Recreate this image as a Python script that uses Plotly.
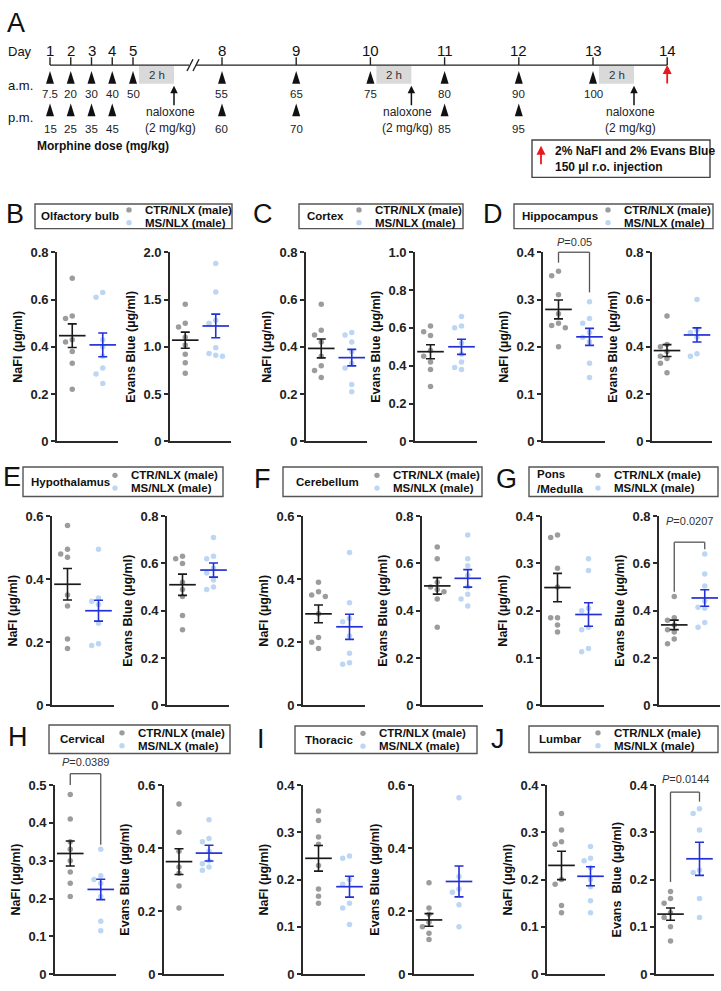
import plotly.graph_objects as go
import numpy as np

W, H = 721, 991
FONT = "Arial, 'Liberation Sans', Helvetica, sans-serif"

# ---------------- Panel A (protocol) data ----------------
days = [1, 2, 3, 4, 5, 8, 9, 10, 11, 12, 13, 14]
am_days = [1, 2, 3, 4, 5, 8, 9, 10, 11, 12, 13]
am_doses = ["7.5", "20", "30", "40", "50", "55", "65", "75", "80", "90", "100"]
pm_days = [1, 2, 3, 4, 8, 9, 11, 12]
pm_doses = ["15", "25", "35", "45", "60", "70", "85", "95"]
naloxone_days = [5, 10, 13]
tracer_day = 14

# ---------------- Panels B-J data ----------------
letters = ["B", "C", "D", "E", "F", "G", "H", "I", "J"]
regions = ["Olfactory bulb", "Cortex", "Hippocampus", "Hypothalamus", "Cerebellum",
           "Pons<br>/Medulla", "Cervical", "Thoracic", "Lumbar"]
group_names = ["CTR/NLX (male)", "MS/NLX (male)"]
measure_titles = [["NaFl (µg/ml)"] * 9,
                  ["Evans Blue (µg/ml)"] * 8 + ["Evans  Blue (µg/ml)"]]

nafl_ctr = [
    [0.69, 0.53, 0.52, 0.43, 0.42, 0.38, 0.33, 0.22],
    [0.58, 0.47, 0.45, 0.42, 0.36, 0.32, 0.30, 0.27],
    [0.36, 0.35, 0.31, 0.27, 0.25, 0.245, 0.24, 0.20],
    [0.57, 0.495, 0.48, 0.47, 0.35, 0.315, 0.21, 0.18],
    [0.39, 0.36, 0.35, 0.345, 0.29, 0.215, 0.20, 0.18],
    [0.36, 0.355, 0.29, 0.25, 0.185, 0.185, 0.17, 0.155],
    [0.475, 0.41, 0.35, 0.33, 0.30, 0.27, 0.24, 0.205],
    [0.345, 0.325, 0.29, 0.275, 0.23, 0.18, 0.165, 0.15],
    [0.34, 0.305, 0.28, 0.275, 0.20, 0.19, 0.145, 0.13],
]
nafl_ms = [
    [0.63, 0.61, 0.43, 0.40, 0.36, 0.31, 0.285, 0.245],
    [0.46, 0.45, 0.42, 0.38, 0.33, 0.31, 0.24, 0.21],
    [0.295, 0.26, 0.25, 0.23, 0.22, 0.21, 0.165, 0.135],
    [0.495, 0.34, 0.33, 0.32, 0.26, 0.195, 0.19],
    [0.485, 0.325, 0.275, 0.265, 0.22, 0.165, 0.135, 0.13],
    [0.31, 0.285, 0.205, 0.20, 0.165, 0.16, 0.12, 0.113],
    [0.33, 0.26, 0.25, 0.24, 0.205, 0.14, 0.115],
    [0.25, 0.245, 0.20, 0.19, 0.15, 0.14, 0.105],
    [0.27, 0.245, 0.24, 0.225, 0.20, 0.185, 0.155, 0.13],
]
evans_ctr = [
    [1.45, 1.25, 1.21, 1.10, 1.02, 0.92, 0.83, 0.72],
    [0.61, 0.58, 0.56, 0.48, 0.45, 0.42, 0.38, 0.29],
    [0.53, 0.41, 0.40, 0.38, 0.36, 0.35, 0.33, 0.29],
    [0.63, 0.62, 0.60, 0.52, 0.49, 0.46, 0.38, 0.32],
    [0.67, 0.62, 0.52, 0.50, 0.49, 0.48, 0.45, 0.33],
    [0.46, 0.37, 0.36, 0.34, 0.32, 0.31, 0.28, 0.26],
    [0.54, 0.45, 0.39, 0.34, 0.32, 0.28, 0.21],
    [0.29, 0.21, 0.19, 0.165, 0.15, 0.13, 0.11],
    [0.175, 0.16, 0.15, 0.13, 0.12, 0.10, 0.07],
]
evans_ms = [
    [1.88, 1.58, 1.28, 1.25, 0.99, 0.93, 0.91, 0.90],
    [0.66, 0.61, 0.60, 0.52, 0.46, 0.42, 0.39, 0.38],
    [0.60, 0.47, 0.46, 0.44, 0.37, 0.36],
    [0.71, 0.63, 0.62, 0.58, 0.56, 0.53, 0.50, 0.49],
    [0.72, 0.62, 0.59, 0.55, 0.50, 0.47, 0.45, 0.42],
    [0.64, 0.555, 0.505, 0.44, 0.415, 0.41, 0.35, 0.33],
    [0.49, 0.43, 0.42, 0.39, 0.36, 0.35, 0.34, 0.33],
    [0.56, 0.31, 0.27, 0.26, 0.22, 0.15],
    [0.35, 0.34, 0.305, 0.22, 0.215, 0.16, 0.12],
]

nafl_mean_ctr = [0.447, 0.393, 0.279, 0.384, 0.290, 0.249, 0.319, 0.245, 0.230]
nafl_sem_ctr = [0.050, 0.040, 0.020, 0.050, 0.028, 0.030, 0.033, 0.027, 0.030]
nafl_mean_ms = [0.408, 0.354, 0.221, 0.300, 0.249, 0.192, 0.224, 0.185, 0.207]
nafl_sem_ms = [0.050, 0.035, 0.018, 0.033, 0.040, 0.025, 0.027, 0.022, 0.020]
evans_mean_ctr = [1.07, 0.474, 0.384, 0.510, 0.505, 0.340, 0.357, 0.172, 0.127]
evans_sem_ctr = [0.085, 0.037, 0.025, 0.045, 0.035, 0.020, 0.041, 0.020, 0.013]
evans_mean_ms = [1.22, 0.500, 0.450, 0.572, 0.537, 0.454, 0.384, 0.294, 0.244]
evans_sem_ms = [0.125, 0.040, 0.030, 0.030, 0.037, 0.035, 0.025, 0.049, 0.035]

nafl_ticks = [
    ["0", "0.2", "0.4", "0.6", "0.8"],
    ["0", "0.2", "0.4", "0.6", "0.8"],
    ["0", "0.1", "0.2", "0.3", "0.4"],
    ["0", "0.2", "0.4", "0.6"],
    ["0", "0.2", "0.4", "0.6"],
    ["0", "0.1", "0.2", "0.3", "0.4"],
    ["0", "0.1", "0.2", "0.3", "0.4", "0.5"],
    ["0", "0.1", "0.2", "0.3", "0.4"],
    ["0", "0.1", "0.2", "0.3", "0.4"],
]
evans_ticks = [
    ["0", "0.5", "1.0", "1.5", "2.0"],
    ["0", "0.2", "0.4", "0.6", "0.8", "1.0"],
    ["0", "0.2", "0.4", "0.6", "0.8"],
    ["0", "0.2", "0.4", "0.6", "0.8"],
    ["0", "0.2", "0.4", "0.6", "0.8"],
    ["0", "0.2", "0.4", "0.6", "0.8"],
    ["0", "0.2", "0.4", "0.6"],
    ["0", "0.2", "0.4", "0.6"],
    ["0", "0.1", "0.2", "0.3", "0.4"],
]

# significance brackets: (panel, measure, top, left leg end, right leg end, label, label level)
brackets = [
    (2, 0, 0.400, 0.378, 0.315, "<i>P</i>=0.05", 0.422),
    (5, 1, 0.690, 0.480, 0.660, "<i>P</i>=0.0207", 0.780),
    (6, 0, 0.530, 0.500, 0.342, "<i>P</i>=0.0389", 0.560),
    (8, 1, 0.385, 0.195, 0.365, "<i>P</i>=0.0144", 0.412),
]

# ---------------- styling / layout ----------------
CTR_DOT = "#9c9c9c"
MS_DOT = "#bcd6f4"
CTR_LINE = "#1a1a1a"
MS_LINE = "#2330d6"
AX = "#2a2a2a"

row_y = [(249, 441), (517, 709), (790, 982)]
x_px = [
    [(57, 118), (170, 231)], [(306, 367), (415, 477)], [(543, 605), (652, 712)],
    [(52, 114), (167, 229)], [(303, 365), (422, 483)], [(542, 604), (659, 720)],
    [(55, 116), (164, 224)], [(303, 365), (414, 474)], [(547, 605), (656, 714)],
]
letter_pos = [(4, 210), (251, 210), (481, 210), (1, 477), (252, 479), (494, 479),
              (6, 741), (255, 743), (489, 743)]
legend_box = [(35, 200, 232, 225), (299, 200, 463, 225), (514, 200, 713, 225),
              (23, 467, 223, 497), (283, 467, 482, 497), (529, 467, 718, 497),
              (49, 729, 230, 758), (295, 730, 477, 758), (529, 730, 718, 757)]
legend_name_x = [39, 305, 520, 29, 294, 535, 58, 303, 537]
legend_label_x = [143, 373, 622, 129, 391, 612, 136, 377, 612]


def px(x):
    return x / W


def py(y):
    return 1 - y / H


def swarm(vals, top, step=0.22, thr=0.032):
    order = np.argsort(vals)[::-1]
    offs = [0.0] * len(vals)
    placed = []
    cands = [0.0, -step, step, -2 * step, 2 * step]
    for i in order:
        chosen = cands[-1]
        for c in cands:
            ok = True
            for j in placed:
                if abs(vals[i] - vals[j]) / top < thr and abs(c - offs[j]) < step * 0.95:
                    ok = False
                    break
            if ok:
                chosen = c
                break
        offs[i] = chosen
        placed.append(i)
    return offs


fig = go.Figure()
layout = dict(width=W, height=H, margin=dict(l=0, r=0, t=0, b=0),
              paper_bgcolor="white", plot_bgcolor="white", showlegend=False,
              hovermode=False, font=dict(family=FONT, color="#111"))
shapes = []
annotations = []

series = [(nafl_ctr, nafl_ms, nafl_mean_ctr, nafl_sem_ctr, nafl_mean_ms, nafl_sem_ms, nafl_ticks),
          (evans_ctr, evans_ms, evans_mean_ctr, evans_sem_ctr, evans_mean_ms, evans_sem_ms, evans_ticks)]

for p in range(9):
    yt, yb = row_y[p // 3]
    for m in range(2):
        n = p * 2 + m + 1
        xn = "x" if n == 1 else f"x{n}"
        yn = "y" if n == 1 else f"y{n}"
        ctr, ms, mc, sc, mm, sm, ticks = series[m]
        labels = ticks[p]
        vals = [float(t) for t in labels]
        top = vals[-1]
        x0, x1 = x_px[p][m]
        layout["xaxis" if n == 1 else f"xaxis{n}"] = dict(
            domain=[px(x0), px(x1)], range=[-0.5, 1.5], anchor=yn,
            showline=True, linecolor=AX, linewidth=1.6, showticklabels=False,
            ticks="", showgrid=False, zeroline=False, fixedrange=True)
        layout["yaxis" if n == 1 else f"yaxis{n}"] = dict(
            domain=[py(yb), py(yt)], range=[0, top], anchor=xn,
            showline=True, linecolor=AX, linewidth=1.6, ticks="outside", ticklen=4,
            tickwidth=1.5, tickcolor=AX, tickvals=vals, ticktext=labels,
            tickfont=dict(size=13, family=FONT, color="#222", weight="bold"),
            showgrid=False, zeroline=False, fixedrange=True,
            title=dict(text=measure_titles[m][p], standoff=5,
                       font=dict(size=12.5, family=FONT, color="#111", weight="bold")))
        for gi, (pts, col) in enumerate([(ctr[p], CTR_DOT), (ms[p], MS_DOT)]):
            offs = swarm(pts, top)
            fig.add_trace(go.Scatter(
                x=[gi + o for o in offs], y=pts, xaxis=xn, yaxis=yn, mode="markers",
                marker=dict(size=5.5, color=col), cliponaxis=False))
        for gi, (mean, sem, col) in enumerate([(mc[p], sc[p], CTR_LINE), (mm[p], sm[p], MS_LINE)]):
            fig.add_trace(go.Scatter(
                x=[gi], y=[mean], xaxis=xn, yaxis=yn, mode="markers",
                marker=dict(symbol="line-ew", size=19, line=dict(width=1.7, color=col), color=col),
                error_y=dict(type="data", array=[sem], color=col, thickness=1.6, width=4.5),
                cliponaxis=False))

# brackets
for (p, m, top_v, l_v, r_v, txt, txt_v) in brackets:
    n = p * 2 + m + 1
    xr = ("x" if n == 1 else f"x{n}") + " domain"
    yr = ("y" if n == 1 else f"y{n}") + " domain"
    top = float(series[m][6][p][-1])
    xl, xrr = (0 + 0.5) / 2.0, (1 + 0.5) / 2.0
    ln = dict(color="#555", width=1.3)
    shapes.append(dict(type="line", xref=xr, yref=yr, x0=xl, x1=xrr, y0=top_v / top, y1=top_v / top, line=ln))
    shapes.append(dict(type="line", xref=xr, yref=yr, x0=xl, x1=xl, y0=top_v / top, y1=l_v / top, line=ln))
    shapes.append(dict(type="line", xref=xr, yref=yr, x0=xrr, x1=xrr, y0=top_v / top, y1=r_v / top, line=ln))
    annotations.append(dict(xref=xr, yref=yr, x=0.5, y=txt_v / top, text=txt, showarrow=False,
                            xanchor="center", yanchor="middle",
                            font=dict(size=11, family=FONT, color="#333")))

# panel letters and legend boxes
for p in range(9):
    lx, ly = letter_pos[p]
    annotations.append(dict(xref="paper", yref="paper", x=px(lx), y=py(ly), text=letters[p],
                            showarrow=False, xanchor="left", yanchor="middle",
                            font=dict(size=27, family=FONT, color="#111")))
    bx0, by0, bx1, by1 = legend_box[p]
    shapes.append(dict(type="rect", xref="paper", yref="paper", x0=px(bx0), x1=px(bx1),
                       y0=py(by1), y1=py(by0), line=dict(color="#555", width=1.4)))
    cy = (by0 + by1) / 2
    annotations.append(dict(xref="paper", yref="paper", x=px(legend_name_x[p]), y=py(cy),
                            text=f"<b>{regions[p]}</b>", showarrow=False, xanchor="left",
                            yanchor="middle", align="left",
                            font=dict(size=11.5, family=FONT, color="#111")))
    for gi, (gname, col) in enumerate(zip(group_names, [CTR_DOT, MS_DOT])):
        gy = cy - 6.5 + 13 * gi
        lxp = legend_label_x[p]
        dx = lxp - 14
        shapes.append(dict(type="circle", xref="paper", yref="paper", x0=px(dx - 2.7), x1=px(dx + 2.7),
                           y0=py(gy + 2.7), y1=py(gy - 2.7), fillcolor=col, line=dict(width=0)))
        annotations.append(dict(xref="paper", yref="paper", x=px(lxp), y=py(gy),
                                text=f"<b>{gname}</b>", showarrow=False, xanchor="left",
                                yanchor="middle", font=dict(size=11.5, family=FONT, color="#111")))

# ---------------- Panel A drawing ----------------
def day_x(d):
    return 50 + 20.75 * (d - 1) if d <= 5 else 222 + 74.2 * (d - 8)


TL_Y = 59
annotations.append(dict(xref="paper", yref="paper", x=px(5), y=py(16), text="A", showarrow=False,
                        xanchor="left", yanchor="middle", font=dict(size=27, family=FONT, color="#111")))
line_k = dict(color="#222", width=1.4)
shapes.append(dict(type="line", xref="paper", yref="paper", x0=px(day_x(1)), x1=px(189),
                   y0=py(TL_Y), y1=py(TL_Y), line=line_k))
shapes.append(dict(type="line", xref="paper", yref="paper", x0=px(196), x1=px(day_x(tracer_day)),
                   y0=py(TL_Y), y1=py(TL_Y), line=line_k))
for bx in (187, 193):
    shapes.append(dict(type="line", xref="paper", yref="paper", x0=px(bx), x1=px(bx + 6),
                       y0=py(65), y1=py(53), line=line_k))
annotations.append(dict(xref="paper", yref="paper", x=px(20), y=py(45), text="Day", showarrow=False,
                        xanchor="center", yanchor="middle", font=dict(size=13, family=FONT)))
annotations.append(dict(xref="paper", yref="paper", x=px(20), y=py(80), text="a.m.", showarrow=False,
                        xanchor="center", yanchor="middle", font=dict(size=13, family=FONT)))
annotations.append(dict(xref="paper", yref="paper", x=px(20), y=py(112), text="p.m.", showarrow=False,
                        xanchor="center", yanchor="middle", font=dict(size=13, family=FONT)))
for d in days:
    x = day_x(d)
    shapes.append(dict(type="line", xref="paper", yref="paper", x0=px(x), x1=px(x),
                       y0=py(51), y1=py(TL_Y), line=line_k))
    annotations.append(dict(xref="paper", yref="paper", x=px(x), y=py(44), text=str(d), showarrow=False,
                            xanchor="center", yanchor="middle", font=dict(size=15, family=FONT)))


def tri(x, ytop, ybot):
    return (f"M {px(x - 4)},{py(ybot)} L {px(x)},{py(ytop)} L {px(x + 4)},{py(ybot)} Z")


for d, dose in zip(am_days, am_doses):
    x = day_x(d)
    shapes.append(dict(type="path", xref="paper", yref="paper", path=tri(x, 65, 78),
                       fillcolor="#111", line=dict(width=0)))
    annotations.append(dict(xref="paper", yref="paper", x=px(x), y=py(88), text=dose, showarrow=False,
                            xanchor="center", yanchor="middle", font=dict(size=11.5, family=FONT, color="#222")))
for d, dose in zip(pm_days, pm_doses):
    x = day_x(d)
    shapes.append(dict(type="path", xref="paper", yref="paper", path=tri(x, 98, 111),
                       fillcolor="#111", line=dict(width=0)))
    annotations.append(dict(xref="paper", yref="paper", x=px(x), y=py(124), text=dose, showarrow=False,
                            xanchor="center", yanchor="middle", font=dict(size=11.5, family=FONT, color="#222")))
for d in naloxone_days:
    x = day_x(d)
    shapes.append(dict(type="rect", xref="paper", yref="paper", x0=px(x + 6), x1=px(x + 41),
                       y0=py(78), y1=py(60), fillcolor="#d9d9d9", line=dict(width=0)))
    annotations.append(dict(xref="paper", yref="paper", x=px(x + 23.5), y=py(69), text="2 h",
                            showarrow=False, xanchor="center", yanchor="middle",
                            font=dict(size=11.5, family=FONT, color="#333")))
    ax_ = x + 41
    annotations.append(dict(xref="paper", yref="paper", x=px(ax_), y=py(80), text="",
                            showarrow=True, axref="pixel", ayref="pixel", ax=0, ay=21,
                            arrowhead=2, arrowsize=1, arrowwidth=1.5, arrowcolor="#111"))
    annotations.append(dict(xref="paper", yref="paper", x=px(ax_ - 4), y=py(115),
                            text="naloxone<br>(2 mg/kg)", showarrow=False, xanchor="center",
                            yanchor="middle", font=dict(size=12, family=FONT, color="#222")))
# tracer injection arrow
tx = day_x(tracer_day)
annotations.append(dict(xref="paper", yref="paper", x=px(tx), y=py(59), text="", showarrow=True,
                        axref="pixel", ayref="pixel", ax=0, ay=20, arrowhead=2, arrowsize=1,
                        arrowwidth=1.8, arrowcolor="#e8191c"))
annotations.append(dict(xref="paper", yref="paper", x=px(35), y=py(141),
                        text="<b>Morphine dose (mg/kg)</b>", showarrow=False, xanchor="left",
                        yanchor="middle", font=dict(size=12, family=FONT, color="#111")))
shapes.append(dict(type="rect", xref="paper", yref="paper", x0=px(532), x1=px(710),
                   y0=py(173), y1=py(135), line=dict(color="#444", width=1.4)))
annotations.append(dict(xref="paper", yref="paper", x=px(541), y=py(141), text="", showarrow=True,
                        axref="pixel", ayref="pixel", ax=0, ay=20, arrowhead=2, arrowsize=1,
                        arrowwidth=1.8, arrowcolor="#e8191c"))
annotations.append(dict(xref="paper", yref="paper", x=px(553), y=py(154),
                        text="<b>2% NaFl and 2% Evans Blue<br>150 µl r.o. injection</b>",
                        showarrow=False, xanchor="left", yanchor="middle", align="left",
                        font=dict(size=12, family=FONT, color="#111")))

layout["shapes"] = shapes
layout["annotations"] = annotations
fig.update_layout(**layout)
fig.write_html("out.html")
